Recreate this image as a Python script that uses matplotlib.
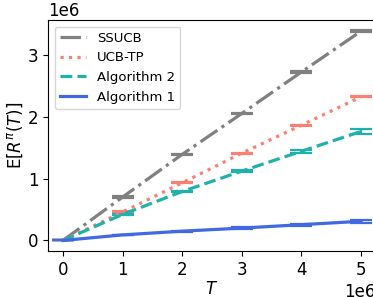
import matplotlib
matplotlib.use("Agg")
import matplotlib.pyplot as plt
import numpy as np

T = [0, 1e6, 2e6, 3e6, 4e6, 5e6]
ssucb = [0, 0.70e6, 1.39e6, 2.05e6, 2.72e6, 3.38e6]
ucbtp = [0, 0.46e6, 0.93e6, 1.41e6, 1.86e6, 2.32e6]
alg2 = [0, 0.42e6, 0.79e6, 1.12e6, 1.44e6, 1.76e6]
alg1 = [0, 0.09e6, 0.15e6, 0.20e6, 0.255e6, 0.31e6]
err_ssucb = [0, 0.01e6, 0.01e6, 0.01e6, 0.01e6, 0.01e6]
err_ucbtp = [0, 0.01e6, 0.01e6, 0.01e6, 0.01e6, 0.01e6]
err_alg2 = [0, 0.01e6, 0.015e6, 0.02e6, 0.025e6, 0.04e6]
err_alg1 = [0, 0.005e6, 0.01e6, 0.012e6, 0.015e6, 0.02e6]

fig = plt.figure(figsize=(3.73, 2.97), dpi=100)
ax = fig.add_axes([0.1287, 0.155, 0.8793, 0.7777])

series = [
    ("SSUCB", ssucb, err_ssucb, "gray", "-."),
    ("UCB-TP", ucbtp, err_ucbtp, "salmon", ":"),
    ("Algorithm 2", alg2, err_alg2, "lightseagreen", "--"),
    ("Algorithm 1", alg1, err_alg1, "royalblue", "-"),
]
for name, y, e, c, ls in series:
    ax.errorbar(T, y, yerr=e, color=c, linestyle=ls, linewidth=2.3,
                capsize=8, capthick=1.6, elinewidth=1.6, label=name)

ax.set_xlabel(r"$T$", fontsize=12, labelpad=1)
ax.set_ylabel(r"E$[R^{\pi}(T)]$", fontsize=12, labelpad=2)
ax.tick_params(labelsize=12)
ax.set_xticks([0, 1e6, 2e6, 3e6, 4e6, 5e6])
ax.set_yticks([0, 1e6, 2e6, 3e6])
ax.xaxis.get_offset_text().set_fontsize(12)
ax.yaxis.get_offset_text().set_fontsize(12)
h, l = ax.get_legend_handles_labels()
ax.legend([hh[0] for hh in h], l, loc="upper left", fontsize=9.5, handlelength=2.0)

fig.savefig("out.png", dpi=100)
